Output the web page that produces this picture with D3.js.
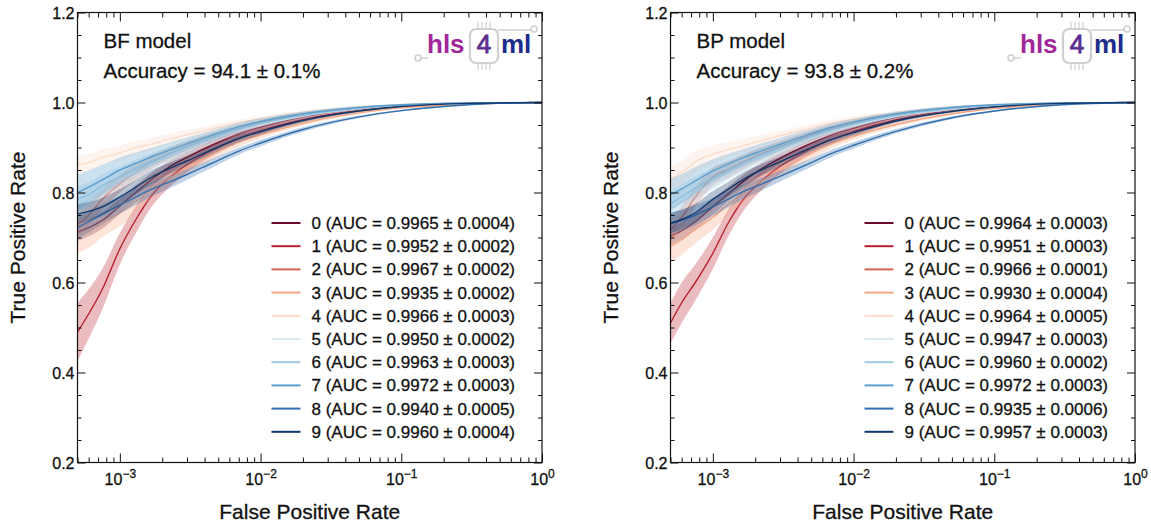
<!DOCTYPE html>
<html>
<head>
<meta charset="utf-8">
<script src="https://cdn.jsdelivr.net/npm/d3@7"></script>
<style>
  body { margin: 0; background: #fff; }
  svg { display: block; }
  text { font-family: "Liberation Sans", Arial, Helvetica, sans-serif; fill: #111; }
  .ink { stroke: #111; stroke-width: 0.3px; }
</style>
</head>
<body>
<svg id="chart" width="1151" height="525"></svg>
<script>
// ---- data ---------------------------------------------------------------
const classes = ["0", "1", "2", "3", "4", "5", "6", "7", "8", "9"];

// false positive rate sampling points shared by every curve
const fprGrid = [5e-4, 6e-4, 7.5e-4, 1e-3, 1.3e-3, 1.7e-3, 2.2e-3, 3e-3, 4.5e-3, 7e-3, 1e-2, 2e-2, 5e-2, 0.1, 0.3, 1];

// BF model: mean true positive rate per class
const bfMean = [
  [0.712, 0.722, 0.738, 0.770, 0.800, 0.830, 0.855, 0.878, 0.905, 0.930, 0.945, 0.968, 0.986, 0.993, 0.998, 1.0],
  [0.490, 0.530, 0.585, 0.675, 0.740, 0.795, 0.830, 0.862, 0.893, 0.920, 0.937, 0.962, 0.983, 0.992, 0.998, 1.0],
  [0.728, 0.750, 0.785, 0.820, 0.845, 0.868, 0.885, 0.902, 0.922, 0.942, 0.955, 0.973, 0.988, 0.994, 0.998, 1.0],
  [0.705, 0.715, 0.735, 0.755, 0.780, 0.810, 0.830, 0.855, 0.885, 0.912, 0.928, 0.954, 0.977, 0.988, 0.996, 1.0],
  [0.862, 0.866, 0.878, 0.888, 0.900, 0.908, 0.918, 0.928, 0.941, 0.955, 0.964, 0.978, 0.990, 0.995, 0.999, 1.0],
  [0.770, 0.785, 0.805, 0.825, 0.845, 0.865, 0.880, 0.897, 0.918, 0.938, 0.950, 0.970, 0.986, 0.993, 0.998, 1.0],
  [0.785, 0.795, 0.815, 0.835, 0.853, 0.870, 0.885, 0.902, 0.922, 0.942, 0.954, 0.972, 0.987, 0.994, 0.998, 1.0],
  [0.800, 0.812, 0.828, 0.850, 0.865, 0.880, 0.893, 0.908, 0.927, 0.946, 0.958, 0.975, 0.989, 0.995, 0.999, 1.0],
  [0.722, 0.735, 0.752, 0.772, 0.790, 0.808, 0.822, 0.840, 0.865, 0.892, 0.910, 0.940, 0.968, 0.982, 0.995, 1.0],
  [0.752, 0.758, 0.768, 0.790, 0.812, 0.835, 0.852, 0.870, 0.895, 0.920, 0.935, 0.960, 0.981, 0.991, 0.998, 1.0]
];
// BF model: spread of the true positive rate across folds
const bfStd = [
  [0.020, 0.019, 0.018, 0.017, 0.016, 0.015, 0.014, 0.012, 0.010, 0.008, 0.006, 0.004, 0.002, 0.001, 0.0005, 0],
  [0.065, 0.055, 0.045, 0.035, 0.030, 0.025, 0.021, 0.017, 0.013, 0.010, 0.008, 0.005, 0.003, 0.002, 0.001, 0],
  [0.025, 0.024, 0.022, 0.020, 0.018, 0.016, 0.014, 0.012, 0.010, 0.008, 0.006, 0.004, 0.002, 0.001, 0.0005, 0],
  [0.040, 0.038, 0.034, 0.030, 0.026, 0.022, 0.019, 0.016, 0.013, 0.010, 0.008, 0.005, 0.003, 0.002, 0.001, 0],
  [0.020, 0.019, 0.018, 0.017, 0.015, 0.014, 0.012, 0.011, 0.009, 0.007, 0.006, 0.004, 0.002, 0.001, 0.0005, 0],
  [0.030, 0.028, 0.026, 0.023, 0.020, 0.018, 0.016, 0.013, 0.011, 0.009, 0.007, 0.005, 0.003, 0.001, 0.0005, 0],
  [0.030, 0.028, 0.026, 0.023, 0.020, 0.018, 0.016, 0.013, 0.011, 0.009, 0.007, 0.005, 0.003, 0.001, 0.0005, 0],
  [0.040, 0.037, 0.033, 0.028, 0.024, 0.020, 0.017, 0.014, 0.011, 0.009, 0.007, 0.005, 0.003, 0.002, 0.001, 0],
  [0.025, 0.024, 0.022, 0.020, 0.018, 0.016, 0.014, 0.012, 0.010, 0.008, 0.007, 0.005, 0.003, 0.002, 0.001, 0],
  [0.022, 0.021, 0.020, 0.018, 0.016, 0.015, 0.013, 0.011, 0.009, 0.008, 0.006, 0.004, 0.002, 0.001, 0.0005, 0]
];

// BP model: mean true positive rate per class
const bpMean = [
  [0.703, 0.715, 0.735, 0.768, 0.798, 0.828, 0.852, 0.876, 0.903, 0.928, 0.943, 0.967, 0.986, 0.993, 0.998, 1.0],
  [0.510, 0.555, 0.600, 0.665, 0.735, 0.790, 0.825, 0.858, 0.890, 0.918, 0.935, 0.961, 0.983, 0.992, 0.998, 1.0],
  [0.718, 0.745, 0.790, 0.835, 0.852, 0.870, 0.886, 0.902, 0.922, 0.942, 0.955, 0.973, 0.988, 0.994, 0.998, 1.0],
  [0.680, 0.695, 0.718, 0.745, 0.775, 0.802, 0.825, 0.850, 0.880, 0.908, 0.925, 0.951, 0.975, 0.987, 0.996, 1.0],
  [0.830, 0.845, 0.868, 0.885, 0.896, 0.905, 0.915, 0.926, 0.940, 0.954, 0.963, 0.977, 0.990, 0.995, 0.999, 1.0],
  [0.765, 0.780, 0.800, 0.822, 0.842, 0.862, 0.878, 0.895, 0.916, 0.936, 0.949, 0.969, 0.985, 0.993, 0.998, 1.0],
  [0.775, 0.790, 0.810, 0.832, 0.850, 0.868, 0.883, 0.900, 0.920, 0.940, 0.952, 0.971, 0.986, 0.993, 0.998, 1.0],
  [0.795, 0.808, 0.826, 0.848, 0.864, 0.879, 0.892, 0.907, 0.926, 0.945, 0.957, 0.975, 0.989, 0.995, 0.999, 1.0],
  [0.730, 0.738, 0.750, 0.768, 0.786, 0.804, 0.818, 0.836, 0.860, 0.887, 0.905, 0.936, 0.966, 0.981, 0.995, 1.0],
  [0.732, 0.740, 0.755, 0.785, 0.808, 0.832, 0.850, 0.868, 0.893, 0.918, 0.933, 0.959, 0.980, 0.990, 0.998, 1.0]
];
// BP model: spread of the true positive rate across folds
const bpStd = [
  [0.020, 0.019, 0.018, 0.017, 0.016, 0.015, 0.014, 0.012, 0.010, 0.008, 0.006, 0.004, 0.002, 0.001, 0.0005, 0],
  [0.045, 0.045, 0.040, 0.035, 0.030, 0.025, 0.021, 0.017, 0.013, 0.010, 0.008, 0.005, 0.003, 0.002, 0.001, 0],
  [0.025, 0.024, 0.022, 0.020, 0.018, 0.016, 0.014, 0.012, 0.010, 0.008, 0.006, 0.004, 0.002, 0.001, 0.0005, 0],
  [0.035, 0.034, 0.031, 0.028, 0.025, 0.022, 0.019, 0.016, 0.013, 0.010, 0.008, 0.005, 0.003, 0.002, 0.001, 0],
  [0.028, 0.026, 0.023, 0.020, 0.017, 0.015, 0.013, 0.011, 0.009, 0.007, 0.006, 0.004, 0.002, 0.001, 0.0005, 0],
  [0.030, 0.028, 0.026, 0.023, 0.020, 0.018, 0.016, 0.013, 0.011, 0.009, 0.007, 0.005, 0.003, 0.001, 0.0005, 0],
  [0.030, 0.028, 0.026, 0.023, 0.020, 0.018, 0.016, 0.013, 0.011, 0.009, 0.007, 0.005, 0.003, 0.001, 0.0005, 0],
  [0.035, 0.033, 0.030, 0.026, 0.022, 0.019, 0.017, 0.014, 0.011, 0.009, 0.007, 0.005, 0.003, 0.002, 0.001, 0],
  [0.025, 0.024, 0.022, 0.020, 0.018, 0.016, 0.014, 0.012, 0.010, 0.008, 0.007, 0.005, 0.003, 0.002, 0.001, 0],
  [0.022, 0.021, 0.020, 0.018, 0.016, 0.015, 0.013, 0.011, 0.009, 0.008, 0.006, 0.004, 0.002, 0.001, 0.0005, 0]
];

const bfAuc = ["0.9965 ± 0.0004", "0.9952 ± 0.0002", "0.9967 ± 0.0002", "0.9935 ± 0.0002", "0.9966 ± 0.0003",
               "0.9950 ± 0.0002", "0.9963 ± 0.0003", "0.9972 ± 0.0003", "0.9940 ± 0.0005", "0.9960 ± 0.0004"];
const bpAuc = ["0.9964 ± 0.0003", "0.9951 ± 0.0003", "0.9966 ± 0.0001", "0.9930 ± 0.0004", "0.9964 ± 0.0005",
               "0.9947 ± 0.0003", "0.9960 ± 0.0002", "0.9972 ± 0.0003", "0.9935 ± 0.0006", "0.9957 ± 0.0003"];

const modelNames = ["BF model", "BP model"];
const accuracies = ["94.1 ± 0.1%", "93.8 ± 0.2%"];

const yMajorTicks = [0.2, 0.4, 0.6, 0.8, 1.0, 1.2];
const xDecadeExponents = [-3, -2, -1, 0];

// ---- drawing ------------------------------------------------------------
const colors = ["#6b0a24", "#b8202f", "#d8634f", "#f4a582", "#fbdccb",
                "#d8e8f2", "#9fcae2", "#5b9fce", "#3270b0", "#11386b"];

const svg = d3.select("#chart");
const plotTop = 12.5, plotBottom = 462.5;

const panels = [
  { left: 77.5,  right: 542,  name: modelNames[0], acc: accuracies[0], mean: bfMean, std: bfStd, auc: bfAuc },
  { left: 670.5, right: 1135, name: modelNames[1], acc: accuracies[1], mean: bpMean, std: bpStd, auc: bpAuc }
];

panels.forEach(p => {
  const g = svg.append("g");
  const x = d3.scaleLog().domain([5e-4, 1]).range([p.left, p.right]);
  const y = d3.scaleLinear().domain([0.2, 1.2]).range([plotBottom, plotTop]);

  // clip the curves to the frame
  const clipId = "clip-" + p.name.replace(/\s/g, "");
  svg.append("clipPath").attr("id", clipId)
    .append("rect").attr("x", p.left).attr("y", plotTop)
    .attr("width", p.right - p.left).attr("height", plotBottom - plotTop);
  const curves = g.append("g").attr("clip-path", `url(#${clipId})`);

  const line = d3.line().x((d, i) => x(fprGrid[i])).y(d => y(d)).curve(d3.curveMonotoneX);
  const area = d3.area()
    .x(d => x(d.f))
    .y0(d => y(d.m - d.s))
    .y1(d => y(Math.min(d.m + d.s, 1)))
    .curve(d3.curveMonotoneX);

  classes.forEach((c, k) => {
    const pts = fprGrid.map((f, i) => ({ f: f, m: p.mean[k][i], s: p.std[k][i] }));
    curves.append("path").attr("d", area(pts))
      .attr("fill", colors[k]).attr("fill-opacity", 0.3).attr("stroke", "none");
    curves.append("path").attr("d", line(p.mean[k]))
      .attr("fill", "none").attr("stroke", colors[k]).attr("stroke-width", 1.4);
  });

  // ticks: major and minor, pointing inwards on all four sides
  const yMinor = d3.range(0.25, 1.2, 0.05).map(v => +v.toFixed(2))
    .filter(v => !yMajorTicks.some(t => Math.abs(t - v) < 1e-6));
  const xMajor = xDecadeExponents.map(e => Math.pow(10, e));
  const xMinor = [];
  [-4, -3, -2, -1].forEach(e => {
    for (let m = 2; m <= 9; m++) {
      const v = m * Math.pow(10, e);
      if (v >= 5e-4 && v < 1) xMinor.push(v);
    }
  });

  const axes = g.append("g").attr("class", "axes");
  const yLeft = axes.append("g").attr("transform", `translate(${p.left},0)`)
    .call(d3.axisLeft(y).tickValues(yMajorTicks).tickSizeInner(-8).tickSizeOuter(0)
      .tickPadding(3).tickFormat(d3.format(".1f")));
  yLeft.selectAll("text").attr("font-size", 16).attr("x", -3).attr("dy", "0.35em").attr("class", "ink");
  axes.append("g").attr("transform", `translate(${p.left},0)`)
    .call(d3.axisLeft(y).tickValues(yMinor).tickSizeInner(-4).tickSizeOuter(0).tickFormat(""));
  axes.append("g").attr("transform", `translate(${p.right},0)`)
    .call(d3.axisRight(y).tickValues(yMajorTicks).tickSizeInner(-8).tickSizeOuter(0).tickFormat(""));
  axes.append("g").attr("transform", `translate(${p.right},0)`)
    .call(d3.axisRight(y).tickValues(yMinor).tickSizeInner(-4).tickSizeOuter(0).tickFormat(""));

  const xBottom = axes.append("g").attr("transform", `translate(0,${plotBottom})`)
    .call(d3.axisBottom(x).tickValues(xMajor).tickSizeInner(-9).tickSizeOuter(0).tickFormat(""));
  axes.append("g").attr("transform", `translate(0,${plotBottom})`)
    .call(d3.axisBottom(x).tickValues(xMinor).tickSizeInner(-5).tickSizeOuter(0).tickFormat(""));
  axes.append("g").attr("transform", `translate(0,${plotTop})`)
    .call(d3.axisTop(x).tickValues(xMajor).tickSizeInner(-9).tickSizeOuter(0).tickFormat(""));
  axes.append("g").attr("transform", `translate(0,${plotTop})`)
    .call(d3.axisTop(x).tickValues(xMinor).tickSizeInner(-5).tickSizeOuter(0).tickFormat(""));
  axes.selectAll(".domain").remove();
  axes.selectAll("line").attr("stroke", "#111").attr("stroke-width", 1);

  // decade labels written as 10 with a superscript exponent
  xBottom.selectAll(".tick").each(function (d, i) {
    const t = d3.select(this).select("text")
      .attr("y", 22).attr("dy", null).attr("font-size", 16).attr("text-anchor", "middle")
      .attr("class", "ink");
    t.append("tspan").text("10");
    t.append("tspan").text(xDecadeExponents[i] === 0 ? "0" : "\u2212" + Math.abs(xDecadeExponents[i]))
      .attr("font-size", 12).attr("dy", -7);
  });

  // frame
  g.append("rect").attr("x", p.left).attr("y", plotTop)
    .attr("width", p.right - p.left).attr("height", plotBottom - plotTop)
    .attr("fill", "none").attr("stroke", "#111").attr("stroke-width", 1.2);

  // axis titles
  g.append("text").attr("transform", `translate(${p.left - 53},${(plotTop + plotBottom) / 2}) rotate(-90)`)
    .attr("text-anchor", "middle").attr("font-size", 21).attr("class", "ink").text("True Positive Rate");
  g.append("text").attr("x", (p.left + p.right) / 2).attr("y", 519)
    .attr("text-anchor", "middle").attr("font-size", 21).attr("class", "ink").text("False Positive Rate");

  // model name and accuracy
  g.append("text").attr("x", p.left + 26).attr("y", 48).attr("font-size", 20.5).attr("class", "ink").text(p.name);
  g.append("text").attr("x", p.left + 26).attr("y", 78).attr("font-size", 20.5).attr("class", "ink")
    .text("Accuracy = " + p.acc);

  // legend
  const lg = g.append("g").attr("transform", `translate(${p.left + 194},223)`);
  classes.forEach((c, k) => {
    const row = lg.append("g").attr("transform", `translate(0,${k * 23.2})`);
    row.append("line").attr("x1", 0).attr("x2", 29).attr("y1", 0).attr("y2", 0)
      .attr("stroke", colors[k]).attr("stroke-width", 2);
    row.append("text").attr("x", 40).attr("y", 6).attr("font-size", 17).attr("class", "ink")
      .text(`${c} (AUC = ${p.auc[k]})`);
  });

  // hls4ml logo
  const logo = g.append("g").attr("transform", `translate(${p.right - 542},0)`);
  const chipGrey = "#cfcfcf";
  logo.append("line").attr("x1", 421).attr("x2", 428).attr("y1", 58).attr("y2", 58)
    .attr("stroke", chipGrey).attr("stroke-width", 1.5);
  logo.append("circle").attr("cx", 418).attr("cy", 58).attr("r", 3)
    .attr("fill", "#fff").attr("stroke", chipGrey).attr("stroke-width", 1.5);
  logo.append("line").attr("x1", 498).attr("x2", 531).attr("y1", 30).attr("y2", 30)
    .attr("stroke", chipGrey).attr("stroke-width", 1.5);
  logo.append("circle").attr("cx", 534).attr("cy", 29).attr("r", 3)
    .attr("fill", "#fff").attr("stroke", chipGrey).attr("stroke-width", 1.5);
  [478, 482, 486, 490].forEach(px => {
    logo.append("line").attr("x1", px).attr("x2", px).attr("y1", 22).attr("y2", 29)
      .attr("stroke", chipGrey).attr("stroke-width", 1.2);
    logo.append("line").attr("x1", px).attr("x2", px).attr("y1", 63).attr("y2", 70)
      .attr("stroke", chipGrey).attr("stroke-width", 1.2);
  });
  logo.append("rect").attr("x", 470).attr("y", 29).attr("width", 28).attr("height", 34).attr("rx", 6)
    .attr("fill", "#fff").attr("stroke", chipGrey).attr("stroke-width", 2.2);
  logo.append("text").attr("x", 427).attr("y", 53).attr("font-size", 26).attr("font-weight", "bold")
    .style("fill", "#a1289a").text("hls");
  logo.append("text").attr("x", 484).attr("y", 53).attr("font-size", 26).attr("text-anchor", "middle")
    .style("fill", "#5a2c90").style("stroke", "#5a2c90").style("stroke-width", "0.8px").text("4");
  logo.append("text").attr("x", 501).attr("y", 53).attr("font-size", 26).attr("font-weight", "bold")
    .style("fill", "#1d2b8d").text("ml");
});
</script>
</body>
</html>
